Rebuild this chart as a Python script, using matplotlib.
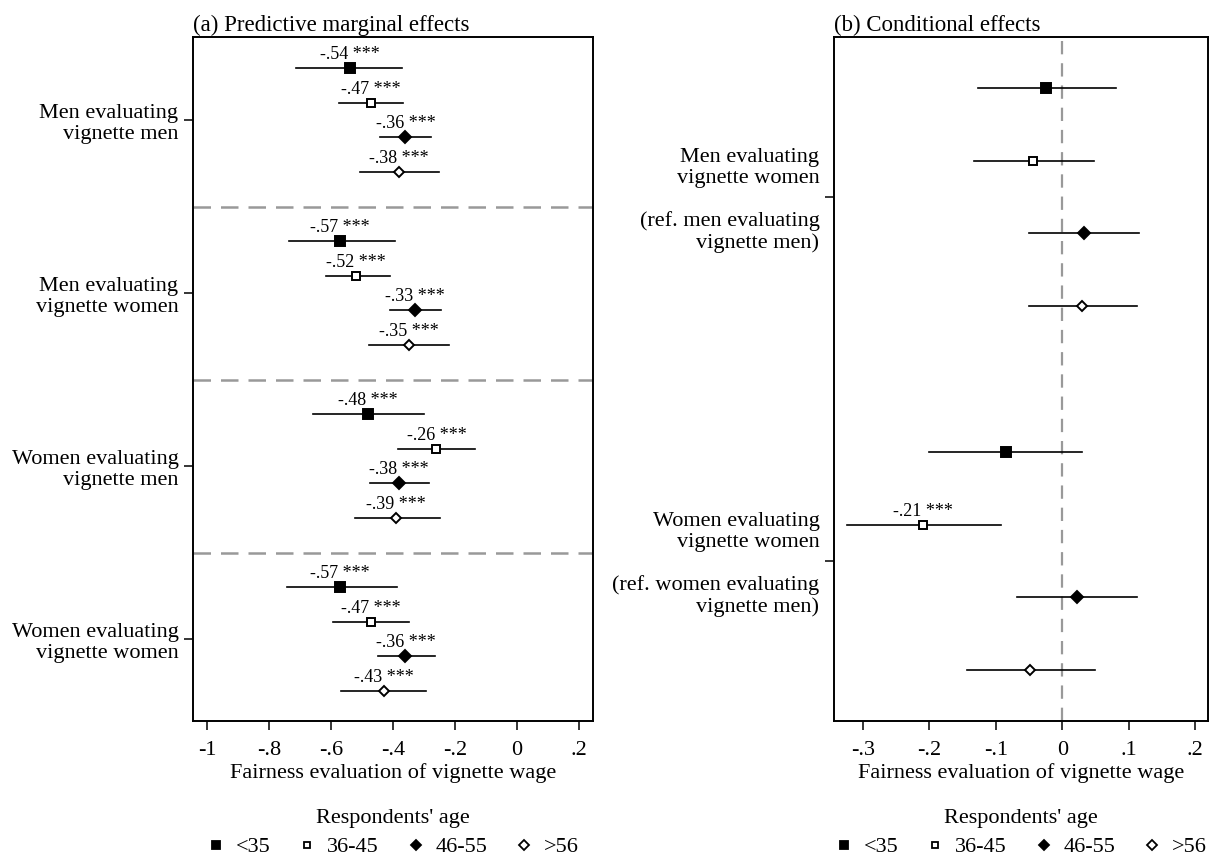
import matplotlib.pyplot as plt
from matplotlib.lines import Line2D

plt.rcParams['font.family'] = ['Liberation Serif', 'DejaVu Serif']

ages = ["<35", "36-45", "46-55", ">56"]

# (a) predictive marginal effects: 4 groups x 4 age classes
groups_a = ["Men evaluating\nvignette men", "Men evaluating\nvignette women",
            "Women evaluating\nvignette men", "Women evaluating\nvignette women"]
est_a = [-0.54, -0.47, -0.36, -0.38,
         -0.57, -0.52, -0.33, -0.35,
         -0.48, -0.26, -0.38, -0.39,
         -0.57, -0.47, -0.36, -0.43]
lo_a = [-0.713, -0.574, -0.442, -0.506,
        -0.735, -0.616, -0.410, -0.477,
        -0.658, -0.384, -0.474, -0.523,
        -0.742, -0.594, -0.448, -0.568]
hi_a = [-0.371, -0.368, -0.277, -0.252,
        -0.394, -0.410, -0.245, -0.219,
        -0.300, -0.135, -0.284, -0.248,
        -0.387, -0.348, -0.265, -0.294]
stars_a = ["***"] * 16

# (b) conditional effects: 2 groups x 4 age classes
groups_b = ["Men evaluating\nvignette women\n\n(ref. men evaluating\nvignette men)",
            "Women evaluating\nvignette women\n\n(ref. women evaluating\nvignette men)"]
est_b = [-0.024, -0.044, 0.033, 0.030,
         -0.085, -0.21, 0.022, -0.048]
lo_b = [-0.127, -0.133, -0.050, -0.050,
        -0.200, -0.324, -0.069, -0.144]
hi_b = [0.081, 0.047, 0.115, 0.112,
        0.030, -0.093, 0.112, 0.049]
stars_b = ["", "", "", "", "", "***", "", ""]

markers = ['s', 's', 'D', 'D']
faces = ['black', 'white', 'black', 'white']
msizes = [6.5, 5.6, 6.3, 5.6]


def fmt(v):
    s = f"{v:.2f}"
    return s.replace("0.", ".")


def draw(ax, est, lo, hi, stars, ngroups, gap):
    pos = []
    for g in range(ngroups):
        for k in range(4):
            pos.append(1 + g * gap + k)
    for i, (e, l, h) in enumerate(zip(est, lo, hi)):
        k = i % 4
        ax.plot([l, h], [pos[i], pos[i]], color='black', lw=1.2, zorder=2)
        ax.plot(e, pos[i], marker=markers[k], ms=msizes[k], mfc=faces[k],
                mec='black', mew=1.4, color='black', zorder=3)
        if stars[i]:
            ax.annotate(f"{fmt(e)} {stars[i]}", (e, pos[i]), xytext=(0, 6.5),
                        textcoords='offset points', ha='center', va='baseline',
                        fontsize=13)
    return pos


fig = plt.figure(figsize=(12.1, 8.61), dpi=100)
axa = fig.add_axes([193 / 1210, 1 - 721 / 861, 400 / 1210, 684 / 861])
axb = fig.add_axes([834 / 1210, 1 - 721 / 861, 374 / 1210, 684 / 861])

# panel a
draw(axa, est_a, lo_a, hi_a, stars_a, 4, 5)
for ysep in [5, 10, 15]:
    axa.axhline(ysep, color='#999999', lw=1.8, dashes=(7, 4), zorder=1)
axa.set_xlim(-1.045, 0.245)
axa.set_ylim(19.87, 0.10)
axa.set_yticks([2.5, 7.5, 12.5, 17.5])
axa.set_yticklabels(groups_a, fontsize=16, linespacing=1.15)
axa.set_xticks([-1, -0.8, -0.6, -0.4, -0.2, 0, 0.2])
axa.set_xticklabels(["-1", "-.8", "-.6", "-.4", "-.2", "0", ".2"])
axa.set_title("(a) Predictive marginal effects", loc='left', fontsize=16.5, pad=4)

# panel b
draw(axb, est_b, lo_b, hi_b, stars_b, 2, 5)
axb.axvline(0, color='#999999', lw=1.6, dashes=(6, 4), zorder=1)
axb.set_xlim(-0.3435, 0.219)
axb.set_ylim(9.70, 0.30)
axb.set_yticks([2.5, 7.5])
axb.set_yticklabels(groups_b, fontsize=16, linespacing=1.15)
axb.set_xticks([-0.3, -0.2, -0.1, 0, 0.1, 0.2])
axb.set_xticklabels(["-.3", "-.2", "-.1", "0", ".1", ".2"])
axb.set_title("(b) Conditional effects", loc='left', fontsize=16.5, pad=4)

for ax in (axa, axb):
    for s in ax.spines.values():
        s.set_linewidth(1.4)
    ax.tick_params(axis='y', length=6.5, width=1.1, pad=4)
    ax.tick_params(axis='x', length=6.5, width=1.1, pad=8, labelsize=16)
    ax.set_xlabel("Fairness evaluation of vignette wage", fontsize=16, labelpad=2)

handles = [Line2D([], [], ls='none', marker=markers[k], ms=[5.5, 5.0, 5.0, 4.6][k],
                  mfc=faces[k], mec='black', mew=1.3) for k in range(4)]
for cx in [393 / 1210, 1021 / 1210]:
    fig.text(cx, 1 - 818 / 861, "Respondents' age", ha='center', va='center',
             fontsize=16)
    fig.legend(handles, ages, ncol=4, loc='center',
               bbox_to_anchor=(cx, 1 - 847 / 861),
               frameon=False, fontsize=16,
               handlelength=0.8, handletextpad=0.5, columnspacing=1.25,
               borderpad=0)

fig.savefig("out.png", dpi=100)
